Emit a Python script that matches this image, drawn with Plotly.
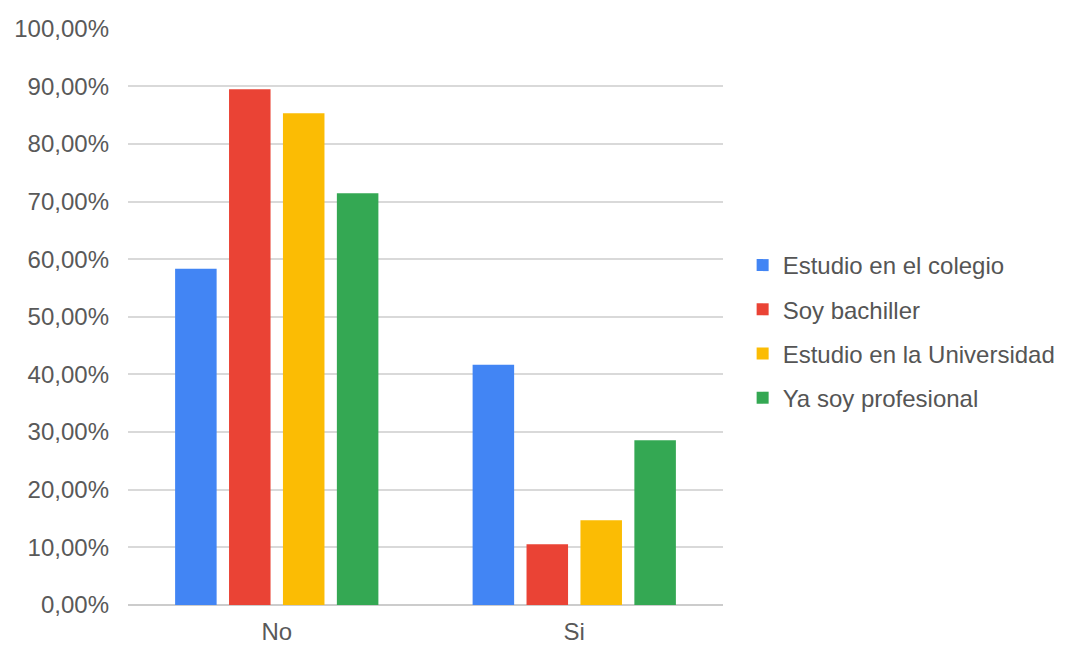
import plotly.graph_objects as go

categories = ["No", "Si"]
series_names = ["Estudio en el colegio", "Soy bachiller", "Estudio en la Universidad", "Ya soy profesional"]
colegio = [0.5833, 0.4167]
bachiller = [0.8947, 0.1053]
universidad = [0.8529, 0.1471]
profesional = [0.7143, 0.2857]
colors = ["#4285F4", "#EA4335", "#FBBC04", "#34A853"]
tick_values = [i / 10 for i in range(11)]

fig = go.Figure()
for i, (name, vals, col) in enumerate(zip(series_names, [colegio, bachiller, universidad, profesional], colors)):
    fig.add_trace(go.Bar(x=categories, y=vals, name=name, marker_color=col,
                         marker_line_width=0, legendgroup=f"g{i}"))

fig.update_layout(
    width=1065, height=647,
    barmode="group", bargap=0.275, bargroupgap=0.23,
    separators=",.",
    font=dict(family="Liberation Sans, Arial", size=24, color="#595959"),
    plot_bgcolor="white", paper_bgcolor="white",
    margin=dict(l=120, r=346, t=20, b=50),
    legend=dict(x=1.033, y=0.474, xanchor="left", yanchor="middle",
                font=dict(size=24, color="#555555"), tracegroupgap=10,
                itemwidth=30),
    showlegend=True,
)
fig.update_yaxes(range=[0, 1.001], tickvals=tick_values, tickformat=".2%",
                 gridcolor="#d9d9d9", gridwidth=1.5, zeroline=True,
                 zerolinecolor="#cccccc", zerolinewidth=1.5, ticks="", ticklen=0,
                 ticklabelstandoff=18, automargin=False)
fig.update_xaxes(showgrid=False, ticks="", ticklabelstandoff=10, automargin=False)

fig.write_html("out.html")
